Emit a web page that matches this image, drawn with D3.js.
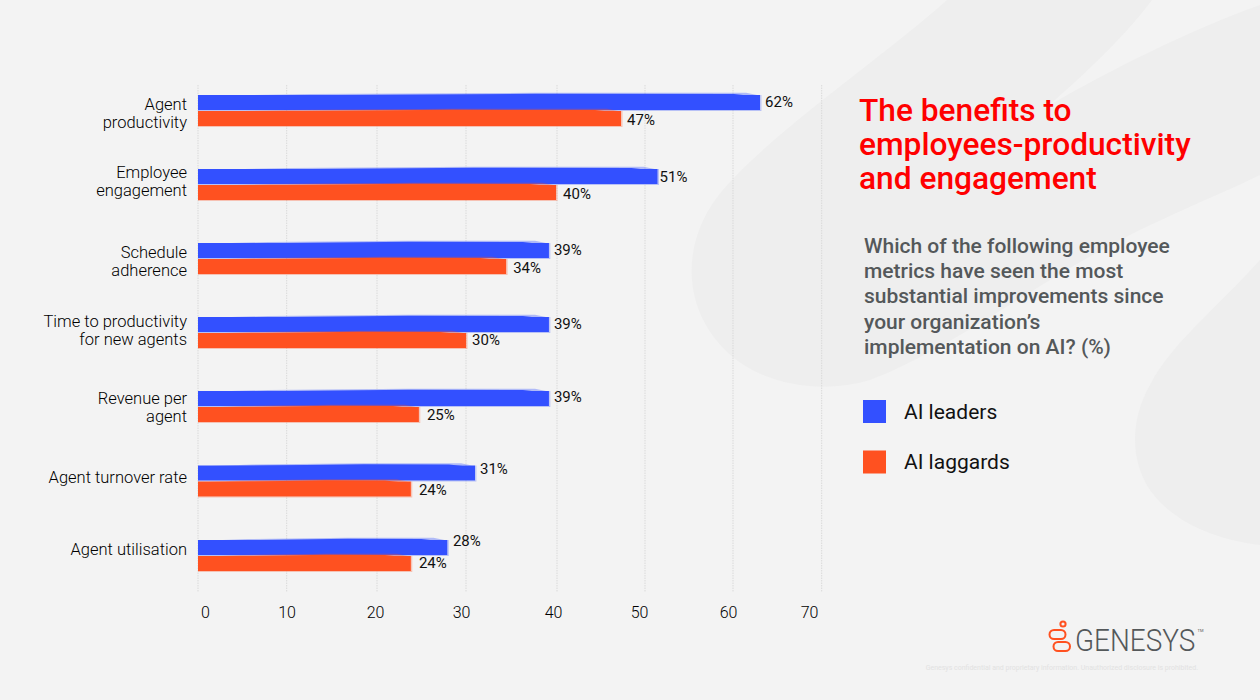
<!DOCTYPE html>
<html>
<head>
    <meta charset="utf-8">
    <title>The benefits to employees</title>
    <script src="https://d3js.org/d3.v7.min.js"></script>
    <style>
        html, body { margin: 0; padding: 0; background: #f3f3f3; overflow: hidden; }
        text { font-family: Roboto, sans-serif; }
    </style>
</head>
<body>
<div id="chart"></div>

<script type="text/javascript">
    const categories = [
        ["Agent", "productivity"],
        ["Employee", "engagement"],
        ["Schedule", "adherence"],
        ["Time to productivity", "for new agents"],
        ["Revenue per", "agent"],
        ["Agent turnover rate"],
        ["Agent utilisation"]
    ];
    // bar lengths as drawn, the printed labels differ a little
    const leaders = [63.1, 51.6, 39.4, 39.4, 39.4, 31.1, 28.0];
    const laggards = [47.5, 40.2, 34.6, 30.1, 24.8, 23.9, 23.9];
    const leaderLabels = ["62%", "51%", "39%", "39%", "39%", "31%", "28%"];
    const laggardLabels = ["47%", "40%", "34%", "30%", "25%", "24%", "24%"];
    const xTicks = [0, 10, 20, 30, 40, 50, 60, 70];
    const questionLines = [
        "Which of the following employee",
        "metrics have seen the most",
        "substantial improvements since",
        "your organization\u2019s",
        "implementation on AI? (%)"
    ];
    const titleLines = ["The benefits to", "employees-productivity", "and engagement"];
    const legendNames = ["AI leaders", "AI laggards"];

    const BLUE = "#3350ff", ORANGE = "#ff5120";
    const BAR_H = 15;

    const svg = d3.select("#chart").append("svg")
        .attr("width", 1260).attr("height", 700);

    // background swooshes
    svg.append("path").attr("fill", "#eeeeee")
        .attr("d", "M947 0 C880 60 760 140 715 200 C680 250 685 310 725 350 C760 385 820 395 870 380 C950 350 1040 280 1130 235 C1180 210 1230 190 1260 175 L1260 5 C1190 30 1110 70 1048 106 C1090 70 1130 30 1152 0 Z");
    svg.append("path").attr("fill", "#eeeeee")
        .attr("d", "M1260 260 C1215 310 1170 345 1150 385 C1130 420 1130 460 1150 490 C1175 525 1220 540 1260 545 Z");

    const x = d3.scaleLinear().domain([0, 70]).range([198, 821.5]);
    // grid lines and tick labels in the source are placed by hand, not evenly
    const xGrid = d3.scaleLinear().domain(xTicks).range([198, 286.7, 377, 466, 557, 645, 733, 821.7]);
    const xLabel = d3.scaleLinear().domain(xTicks).range([205, 286.5, 375, 461, 553, 639, 728, 809]);
    const y = d3.scaleBand().domain(d3.range(categories.length)).range([72, 590]);

    // small per row shifts of the hand placed parts
    const rowShift = [0, 0, 0, 0, 0, 0.5, 1];
    const leaderLabelDy = [-0.5, 0, -0.5, -0.5, -1.5, -4, -7];
    const laggardLabelDy = [1.5, 1.5, 1.5, -0.5, 0.5, 0.5, -1];
    const leaderLabelDx = [5, 2, 5, 5, 5, 5, 5.5];
    const laggardLabelDx = [6, 7, 7, 6, 8, 8, 8];
    const catDy = [2.5, -3.5, 2.5, -2.5, 1, -3, -5.5];

    // grid
    svg.append("g").selectAll("line").data(xTicks).enter().append("line")
        .attr("x1", d => xGrid(d)).attr("x2", d => xGrid(d))
        .attr("y1", 85).attr("y2", 592)
        .attr("stroke", "#d9d9d9").attr("stroke-width", 1)
        .attr("stroke-dasharray", "1.5 1");

    const axis = svg.append("g").attr("transform", "translate(0,613)")
        .call(d3.axisBottom(xLabel).tickValues(xTicks).tickSize(0).tickPadding(0));
    axis.select(".domain").remove();
    axis.selectAll("text").attr("font-size", 16).attr("font-weight", 300).attr("fill", "#000")
        .attr("font-family", "Roboto, sans-serif").attr("dy", "0.32em").attr("y", 0);

    function drawBars(values, labels, color, offset, labelDx, labelDy) {
        const g = svg.append("g");
        const top = i => y(i) + offset + rowShift[i];

        // the brushed top edge, pale streak then the denser part
        g.selectAll("path.streak").data(values).enter().append("path")
            .attr("class", "streak")
            .attr("fill", color).attr("opacity", 0.35)
            .attr("d", (d, i) => {
                const x0 = x(0), x1 = x(d), w = x1 - x0, t = top(i);
                return `M${x0} ${t + 1} L${x0 + w * 0.2} ${t - 1} L${x0 + w * 0.6} ${t - 2.2} L${x1 - 14} ${t - 2.2} L${x1 - 3} ${t} Z`;
            });
        g.selectAll("path.brush").data(values).enter().append("path")
            .attr("class", "brush")
            .attr("fill", color)
            .attr("d", (d, i) => {
                const x0 = x(0), x1 = x(d), w = x1 - x0, t = top(i);
                return `M${x0} ${t + 1} L${x0 + w * 0.25} ${t} L${x0 + w * 0.6} ${t - 1.2} L${x1 - 26} ${t - 1} L${x1 - 8} ${t + 1} Z`;
            });

        g.selectAll("rect").data(values).enter().append("rect")
            .attr("x", x(0)).attr("y", (d, i) => top(i))
            .attr("width", d => x(d) - x(0)).attr("height", BAR_H)
            .attr("fill", color);

        // pale rim along the end of each bar
        g.selectAll("path.rim").data(values).enter().append("path")
            .attr("class", "rim")
            .attr("fill", "none").attr("stroke", color).attr("stroke-opacity", 0.3).attr("stroke-width", 1.2)
            .attr("d", (d, i) => `M${x(0)} ${top(i) + BAR_H + 0.5} H${x(d) + 0.8} V${top(i)}`);

        g.selectAll("text").data(values).enter().append("text")
            .attr("x", (d, i) => x(d) + labelDx[i])
            .attr("y", (d, i) => top(i) + BAR_H / 2 + labelDy[i])
            .attr("dy", "0.35em")
            .attr("font-size", 15).attr("fill", "#111")
            .text((d, i) => labels[i]);
    }

    drawBars(leaders, leaderLabels, BLUE, 23, leaderLabelDx, leaderLabelDy);
    drawBars(laggards, laggardLabels, ORANGE, 39, laggardLabelDx, laggardLabelDy);

    // category labels
    const catLabels = svg.append("g");
    categories.forEach((lines, i) => {
        const cy = y(i) + 38.5 + catDy[i];
        const t = catLabels.append("text")
            .attr("text-anchor", "end").attr("font-size", 16.5).attr("font-weight", 300).attr("fill", "#000");
        lines.forEach((line, k) => {
            t.append("tspan").attr("x", 187)
                .attr("y", cy + (k - (lines.length - 1) / 2) * 18)
                .attr("dy", "0.35em")
                .text(line);
        });
    });

    // right panel
    svg.append("g").selectAll("text").data(titleLines).enter().append("text")
        .attr("x", 859).attr("y", (d, i) => 120.5 + i * 34.3)
        .attr("font-size", 31.7).attr("font-weight", 500).attr("fill", "#ff0000")
        .text(d => d);

    svg.append("g").selectAll("text").data(questionLines).enter().append("text")
        .attr("x", 864).attr("y", (d, i) => 253 + i * 25.2)
        .attr("font-size", 21).attr("font-weight", 500).attr("fill", "#54585a")
        .text(d => d);

    const legend = svg.append("g").selectAll("g").data(legendNames).enter().append("g")
        .attr("transform", (d, i) => `translate(863,${400 + i * 50.5})`);
    legend.append("rect").attr("width", 23).attr("height", 23)
        .attr("fill", (d, i) => i ? ORANGE : BLUE);
    legend.append("text").attr("x", 41).attr("y", 11.5).attr("dy", "0.35em")
        .attr("font-size", 21).attr("fill", "#111").text(d => d);

    // logo
    const logo = svg.append("g").attr("fill", "none").attr("stroke", "#ff5120").attr("stroke-width", 2);
    logo.append("circle").attr("cx", 1063).attr("cy", 624).attr("r", 2.6);
    logo.append("rect").attr("x", 1049.5).attr("y", 630).attr("width", 16).attr("height", 9).attr("rx", 4.5);
    logo.append("rect").attr("x", 1053.5).attr("y", 642).attr("width", 16.5).attr("height", 9).attr("rx", 4.5);
    svg.append("text").attr("transform", "translate(1075,651) scale(0.9,1)")
        .attr("font-size", 31).attr("font-weight", 300).attr("fill", "#54585a")
        .text("GENESYS");
    svg.append("text").attr("x", 1197.5).attr("y", 632)
        .attr("font-size", 4).attr("fill", "#54585a").text("TM");
    svg.append("text").attr("x", 1198).attr("y", 669.5).attr("text-anchor", "end")
        .attr("font-size", 7).attr("fill", "#e2e2e2")
        .text("Genesys confidential and proprietary information. Unauthorized disclosure is prohibited.");
</script>
</body>
</html>
